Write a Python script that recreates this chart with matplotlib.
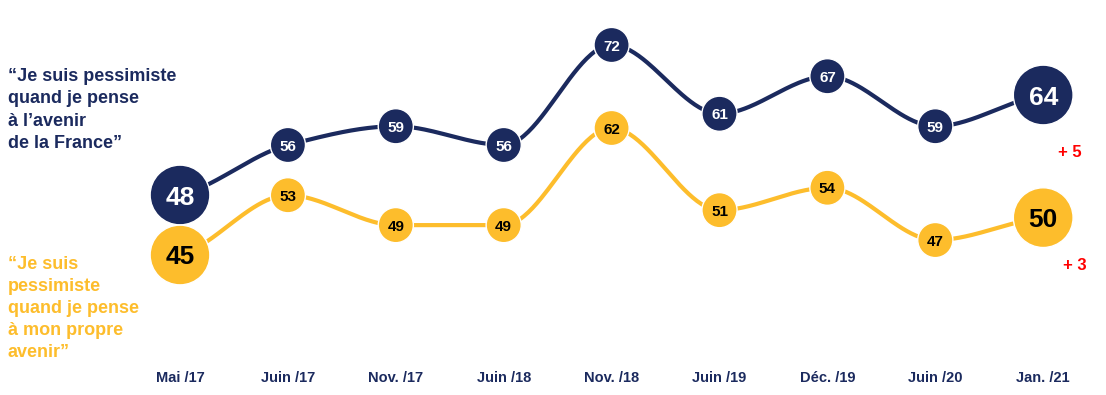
import matplotlib
matplotlib.use("Agg")
import matplotlib.pyplot as plt
import numpy as np

# Data
periods = ["Mai /17", "Juin /17", "Nov. /17", "Juin /18", "Nov. /18",
           "Juin /19", "Déc. /19", "Juin /20", "Jan. /21"]
france = [48, 56, 59, 56, 72, 61, 67, 59, 64]  # pessimiste pour la France
perso = [45, 53, 49, 49, 62, 51, 54, 47, 50]   # pessimiste pour soi
france_delta = "+ 5"
perso_delta = "+ 3"

NAVY = "#1b2a5e"
YELLOW = "#fdbd2c"
plt.rcParams["font.family"] = ["Liberation Sans", "DejaVu Sans"]


def pchip(x, y, xs):
    """Monotone cubic curve through the points (Fritsch-Carlson)."""
    x = np.asarray(x, float)
    y = np.asarray(y, float)
    h = np.diff(x)
    d = np.diff(y) / h
    m = np.zeros_like(y)
    for k in range(1, len(y) - 1):
        if d[k - 1] * d[k] > 0:
            w1 = 2 * h[k] + h[k - 1]
            w2 = h[k] + 2 * h[k - 1]
            m[k] = (w1 + w2) / (w1 / d[k - 1] + w2 / d[k])
    m[0] = d[0] * 0.5
    m[-1] = d[-1] * 0.5
    idx = np.clip(np.searchsorted(x, xs) - 1, 0, len(x) - 2)
    t = (xs - x[idx]) / h[idx]
    h00 = 2 * t**3 - 3 * t**2 + 1
    h10 = t**3 - 2 * t**2 + t
    h01 = -2 * t**3 + 3 * t**2
    h11 = t**3 - t**2
    return (h00 * y[idx] + h10 * h[idx] * m[idx]
            + h01 * y[idx + 1] + h11 * h[idx] * m[idx + 1])


fig = plt.figure(figsize=(11.06, 3.95), dpi=100)
ax1 = fig.add_axes([0, 0, 1, 1])
ax2 = ax1.twinx()  # the two series are drawn on their own vertical scales

xpos = np.arange(len(periods))
xs = np.linspace(0, len(periods) - 1, 400)
step = 107.9
for ax in (ax1, ax2):
    ax.set_xlim(-180 / step, (1106 - 180) / step)
    ax.axis("off")
ax1.set_ylim(48 - 200 / 6.25, 48 + 195 / 6.25)
ax2.set_ylim(45 - 140 / 7.47, 45 + 255 / 7.47)

sizes = [1850] + [640] * (len(periods) - 2) + [1850]
fsizes = [19] + [11] * (len(periods) - 2) + [19]

for ax, vals, col, txtcol in [(ax1, france, NAVY, "white"), (ax2, perso, YELLOW, "black")]:
    ax.plot(xs, pchip(xpos, vals, xs), color=col, lw=3, zorder=2, solid_capstyle="round")
    ax.scatter(xpos, vals, s=sizes, color=col, zorder=3, edgecolors="white", linewidths=1)
    for x, v, fs in zip(xpos, vals, fsizes):
        ax.text(x, v, str(v), ha="center", va="center_baseline", color=txtcol,
                fontsize=fs, fontweight="bold", zorder=4)

# x labels
for x, lab in zip(xpos, periods):
    ax1.text(x, 48 - (378 - 195) / 6.25, lab, ha="center", va="center", color=NAVY,
             fontsize=10.5, fontweight="bold")

# left-hand series labels
fig.text(8 / 1106, 1 - 68 / 395, "“Je suis pessimiste\nquand je pense\nà l’avenir\nde la France”",
         ha="left", va="top", color=NAVY, fontsize=13, fontweight="bold", linespacing=1.42)
fig.text(8 / 1106, 1 - 256 / 395, "“Je suis\npessimiste\nquand je pense\nà mon propre\navenir”",
         ha="left", va="top", color=YELLOW, fontsize=13, fontweight="bold", linespacing=1.38)

# evolution since last wave
fig.text(1070 / 1106, 1 - 152 / 395, france_delta, ha="center", va="center",
         color="red", fontsize=12, fontweight="bold")
fig.text(1075 / 1106, 1 - 265 / 395, perso_delta, ha="center", va="center",
         color="red", fontsize=12, fontweight="bold")

fig.savefig("out.png", dpi=100)
